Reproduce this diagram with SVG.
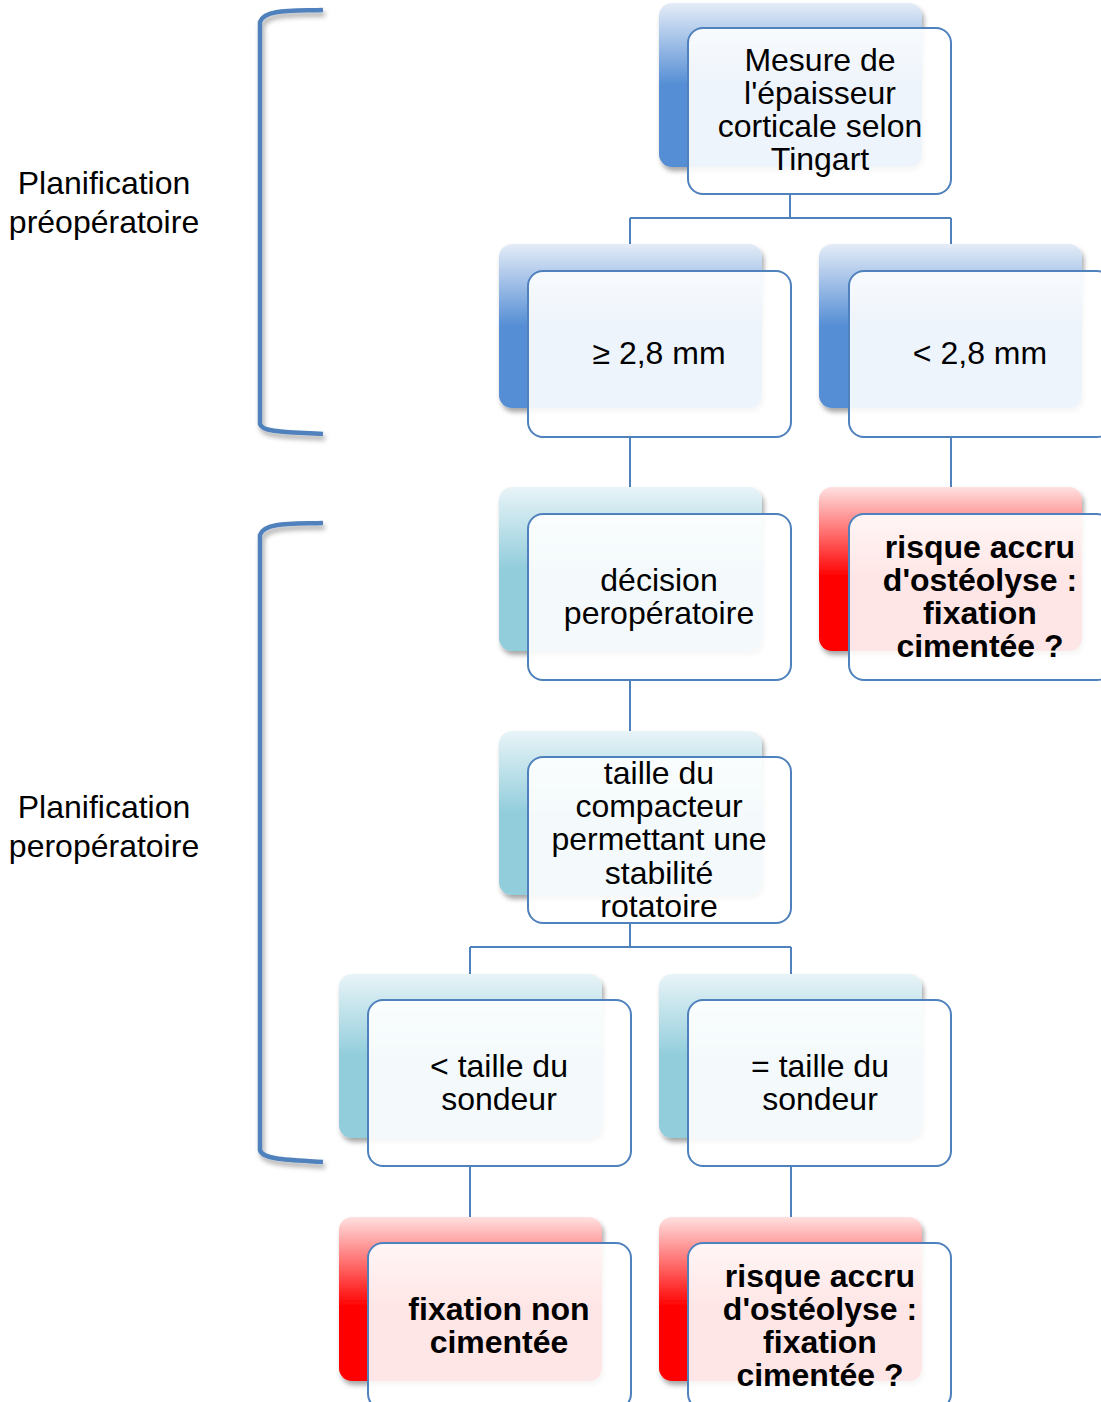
<svg xmlns="http://www.w3.org/2000/svg" width="1101" height="1402" viewBox="0 0 1101 1402">
<style>
text{font-family:"Liberation Sans",Arial,sans-serif;font-size:32px;fill:#000;text-anchor:middle}
.b{font-weight:bold}
.conn{stroke:#4F81BD;stroke-width:2;fill:none}
.front{fill:#fff;fill-opacity:0.9;stroke:#4F81BD;stroke-width:2}
.brk{stroke:#4F81BD;stroke-width:4.5;fill:none;filter:url(#sh)}
</style>
<defs>
<linearGradient id="gb" x1="0" y1="0" x2="0" y2="1">
<stop offset="0" stop-color="#e4ecf7"/><stop offset="0.5" stop-color="#558ED5"/><stop offset="1" stop-color="#558ED5"/>
</linearGradient>
<linearGradient id="gt" x1="0" y1="0" x2="0" y2="1">
<stop offset="0" stop-color="#e8f4f7"/><stop offset="0.5" stop-color="#92CDDC"/><stop offset="1" stop-color="#92CDDC"/>
</linearGradient>
<linearGradient id="gr" x1="0" y1="0" x2="0" y2="1">
<stop offset="0" stop-color="#ffe0e0"/><stop offset="0.55" stop-color="#ff0000"/><stop offset="1" stop-color="#ff0000"/>
</linearGradient>
<filter id="sh" x="-20%" y="-20%" width="140%" height="140%">
<feDropShadow dx="2" dy="4" stdDeviation="2.5" flood-color="#000" flood-opacity="0.35"/>
</filter>
</defs>
<rect width="1101" height="1402" fill="#fff"/>

<g id="brackets">
<path class="brk" d="M323,10 C292,11 264,9 260,22 L260,424 C262,433 292,432 323,434"/>
<path class="brk" d="M323,523 C292,524 264,522 260,535 L260,1150 C262,1160 292,1160 323,1162"/>
</g>
<g id="labels">
<text x="104" y="194">Planification</text>
<text x="104" y="233">préopératoire</text>
<text x="104" y="818">Planification</text>
<text x="104" y="857">peropératoire</text>
</g>

<g id="connectors">
<path class="conn" d="M790,194 V218 M630,218 H951 M630,218 V271 M951,218 V271"/>
<path class="conn" d="M630,437 V514"/>
<path class="conn" d="M951,437 V514"/>
<path class="conn" d="M630,681 V757"/>
<path class="conn" d="M630,923 V947 M470,947 H791 M470,947 V1000 M791,947 V1000"/>
<path class="conn" d="M470,1166 V1243"/>
<path class="conn" d="M791,1166 V1243"/>
</g>

<g id="n1">
<rect x="659" y="3" width="263" height="164" rx="13" fill="url(#gb)" filter="url(#sh)"/>
<rect class="front" x="688" y="28" width="263" height="166" rx="15"/>
<text x="820" y="71">Mesure de</text>
<text x="820" y="104">l'épaisseur</text>
<text x="820" y="137">corticale selon</text>
<text x="820" y="170">Tingart</text>
</g>
<g id="n2">
<rect x="499" y="244" width="263" height="164" rx="13" fill="url(#gb)" filter="url(#sh)"/>
<rect class="front" x="528" y="271" width="263" height="166" rx="15"/>
<text x="659" y="364">≥ 2,8 mm</text>
</g>
<g id="n3">
<rect x="819" y="244" width="263" height="164" rx="13" fill="url(#gb)" filter="url(#sh)"/>
<rect class="front" x="849" y="271" width="263" height="166" rx="15"/>
<text x="980" y="364">&lt; 2,8 mm</text>
</g>
<g id="n4">
<rect x="499" y="487" width="263" height="164" rx="13" fill="url(#gt)" filter="url(#sh)"/>
<rect class="front" x="528" y="514" width="263" height="166" rx="15"/>
<text x="659" y="591">décision</text>
<text x="659" y="624">peropératoire</text>
</g>
<g id="n5">
<rect x="819" y="487" width="263" height="164" rx="13" fill="url(#gr)" filter="url(#sh)"/>
<rect class="front" x="849" y="514" width="263" height="166" rx="15"/>
<text class="b" x="980" y="558">risque accru</text>
<text class="b" x="980" y="591">d'ostéolyse :</text>
<text class="b" x="980" y="624">fixation</text>
<text class="b" x="980" y="657">cimentée ?</text>
</g>
<g id="n6">
<rect x="499" y="731" width="263" height="164" rx="13" fill="url(#gt)" filter="url(#sh)"/>
<rect class="front" x="528" y="757" width="263" height="166" rx="15"/>
<text x="659" y="784">taille du</text>
<text x="659" y="817">compacteur</text>
<text x="659" y="850">permettant une</text>
<text x="659" y="884">stabilité</text>
<text x="659" y="917">rotatoire</text>
</g>
<g id="n7">
<rect x="339" y="974" width="263" height="164" rx="13" fill="url(#gt)" filter="url(#sh)"/>
<rect class="front" x="368" y="1000" width="263" height="166" rx="15"/>
<text x="499" y="1077">&lt; taille du</text>
<text x="499" y="1110">sondeur</text>
</g>
<g id="n8">
<rect x="659" y="974" width="263" height="164" rx="13" fill="url(#gt)" filter="url(#sh)"/>
<rect class="front" x="688" y="1000" width="263" height="166" rx="15"/>
<text x="820" y="1077">= taille du</text>
<text x="820" y="1110">sondeur</text>
</g>
<g id="n9">
<rect x="339" y="1217" width="263" height="164" rx="13" fill="url(#gr)" filter="url(#sh)"/>
<rect class="front" x="368" y="1243" width="263" height="166" rx="15"/>
<text class="b" x="499" y="1320">fixation non</text>
<text class="b" x="499" y="1353">cimentée</text>
</g>
<g id="n10">
<rect x="659" y="1217" width="263" height="164" rx="13" fill="url(#gr)" filter="url(#sh)"/>
<rect class="front" x="688" y="1243" width="263" height="166" rx="15"/>
<text class="b" x="820" y="1287">risque accru</text>
<text class="b" x="820" y="1320">d'ostéolyse :</text>
<text class="b" x="820" y="1353">fixation</text>
<text class="b" x="820" y="1386">cimentée ?</text>
</g>
</svg>
